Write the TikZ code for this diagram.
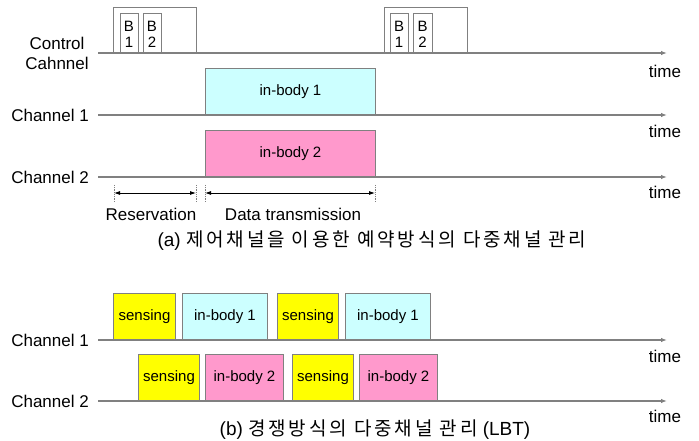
\documentclass[tikz,border=0pt]{standalone}
\usepackage{fontspec}
\setmainfont{Liberation Sans}
\newfontfamily\kr[LetterSpace=15]{Noto Sans CJK KR}
\usetikzlibrary{arrows.meta}
\definecolor{ln}{HTML}{808080}
\definecolor{cy}{HTML}{CCFFFF}
\definecolor{pk}{HTML}{FF99CC}
\definecolor{ye}{HTML}{FFFF00}
\tikzset{
  axis/.style={draw=ln, line width=1.3pt, -{Latex[length=6pt,width=4.5pt]}},
  frame/.style={draw=ln, line width=1pt},
  slot/.style={draw=ln, line width=1pt},
  lbl/.style={font=\fontsize{17}{19}\selectfont, inner sep=0pt},
  captxt/.style={font=\fontsize{19}{21}\selectfont, inner sep=0pt},
  boxtxt/.style={font=\fontsize{15}{17}\selectfont, inner sep=0pt},
  btxt/.style={font=\fontsize{15}{17}\selectfont, inner sep=0pt, align=center},
  dimline/.style={draw=black, line width=0.8pt, {Latex[length=6pt,width=4pt]}-{Latex[length=6pt,width=4pt]}},
  tick/.style={draw=ln, line width=0.8pt, densely dotted},
}
\begin{document}
\begin{tikzpicture}[x=1pt,y=-1pt]
\useasboundingbox (0,0) rectangle (699,441);
% ---------- (a) ----------
% control channel
\coordinate (c0) at (98,53); \coordinate (c1) at (667,53);
\draw[frame] (113,53) |- (196,8) -- (196,53);
\draw[slot] (120,53) |- (138,14) -- (138,53);
\draw[slot] (143,53) |- (161,14) -- (161,53);
\node[btxt] (cb1) at (129,34) {B\\[-1pt]1};
\node[btxt] (cb2) at (152,34) {B\\[-1pt]2};
\draw[frame] (384,53) |- (467,8) -- (467,53);
\draw[slot] (390,53) |- (408,14) -- (408,53);
\draw[slot] (413,53) |- (432,14) -- (432,53);
\node[btxt] (cb3) at (399,34) {B\\[-1pt]1};
\node[btxt] (cb4) at (422.5,34) {B\\[-1pt]2};
\draw[axis] (c0) -- (c1);
\node[lbl] (tc) at (665,71) {time};
\node[lbl, align=center] (lc) at (57,53) {Control\\[1pt]Cahnnel};
% channel 1
\node[slot, fill=cy, minimum width=170pt, minimum height=46pt, anchor=south west, inner sep=0pt] (ib1) at (205,115) {};
\node[boxtxt] at (ib1.center) {in-body 1};
\coordinate (a10) at (98,115); \coordinate (a11) at (667,115);
\draw[axis] (a10) -- (a11);
\node[lbl] (t1) at (665,131) {time};
\node[lbl, anchor=east] (l1) at (89,115) {Channel 1};
% channel 2
\node[slot, fill=pk, minimum width=170pt, minimum height=46pt, anchor=south west, inner sep=0pt] (ib2) at (205,177) {};
\node[boxtxt] at (ib2.center) {in-body 2};
\coordinate (a20) at (98,177); \coordinate (a21) at (667,177);
\draw[axis] (a20) -- (a21);
\node[lbl] (t2) at (665,192) {time};
\node[lbl, anchor=east] (l2) at (89,177) {Channel 2};
% dimension
\coordinate (d1t) at (114,185); \coordinate (d1b) at (114,202);
\coordinate (d2t) at (196,185); \coordinate (d2b) at (196,202);
\coordinate (d3t) at (205,185); \coordinate (d3b) at (205,202);
\coordinate (d4t) at (375,185); \coordinate (d4b) at (375,202);
\draw[tick] (d1t) -- (d1b); \draw[tick] (d2t) -- (d2b);
\draw[tick] (d3t) -- (d3b); \draw[tick] (d4t) -- (d4b);
\draw[dimline] (114,193) -- (196,193);
\draw[dimline] (205,193) -- (375,193);
\node[lbl] (res) at (151,214) {Reservation};
\node[lbl] (dt) at (293,214) {Data transmission};
\node[captxt] (capa) at (372,241) {(a) {\kr 제어채널을 이용한 예약방식의 다중채널 관리}};
% ---------- (b) ----------
\tikzset{pb/.style={slot, minimum height=46pt, anchor=south west, inner sep=0pt}}
\node[pb, fill=ye, minimum width=62pt] (s11) at (113,340) {};
\node[boxtxt] at (s11.center) {sensing};
\node[pb, fill=cy, minimum width=85pt] (b11) at (182,340) {};
\node[boxtxt] at (b11.center) {in-body 1};
\node[pb, fill=ye, minimum width=61pt] (s12) at (277,340) {};
\node[boxtxt] at (s12.center) {sensing};
\node[pb, fill=cy, minimum width=85pt] (b12) at (345,340) {};
\node[boxtxt] at (b12.center) {in-body 1};
\coordinate (b10) at (98,340); \coordinate (b1e) at (667,340);
\draw[axis] (b10) -- (b1e);
\node[lbl] (tb1) at (665,356) {time};
\node[lbl, anchor=east] (lb1) at (89,340) {Channel 1};
\node[pb, fill=ye, minimum width=61pt] (s21) at (138,401) {};
\node[boxtxt] at (s21.center) {sensing};
\node[pb, fill=pk, minimum width=78pt] (b21) at (205,401) {};
\node[boxtxt] at (b21.center) {in-body 2};
\node[pb, fill=ye, minimum width=61pt] (s22) at (292,401) {};
\node[boxtxt] at (s22.center) {sensing};
\node[pb, fill=pk, minimum width=78pt] (b22) at (359,401) {};
\node[boxtxt] at (b22.center) {in-body 2};
\coordinate (b20) at (98,401); \coordinate (b2e) at (667,401);
\draw[axis] (b20) -- (b2e);
\node[lbl] (tb2) at (665,416) {time};
\node[lbl, anchor=east] (lb2) at (89,401) {Channel 2};
\node[captxt] (capb) at (375,430) {(b) {\kr 경쟁방식의 다중채널 관리} (LBT)};
\end{tikzpicture}
\end{document}
